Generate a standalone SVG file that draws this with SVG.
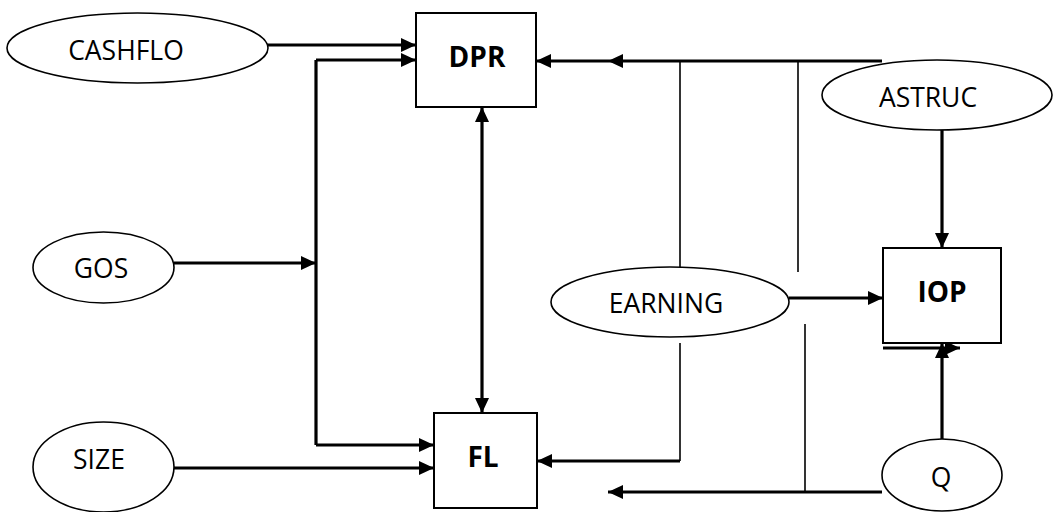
<svg xmlns="http://www.w3.org/2000/svg" width="1056" height="512" viewBox="0 0 1056 512">
<defs>
<marker id="ah" markerUnits="userSpaceOnUse" markerWidth="16" markerHeight="14" refX="15" refY="7" orient="auto">
<path d="M0,0 L15,7 L0,14 z" fill="#000"/>
</marker>
<marker id="ahs" markerUnits="userSpaceOnUse" markerWidth="16" markerHeight="14" refX="15" refY="7" orient="auto-start-reverse">
<path d="M0,0 L15,7 L0,14 z" fill="#000"/>
</marker>
<style>
.el{fill:#fff;stroke:#000;stroke-width:1.6}
.bx{fill:#fff;stroke:#000;stroke-width:2}
.t{font-family:"Open Sans","DejaVu Sans",sans-serif;font-size:26.5px;fill:#000;text-anchor:middle}
.b{font-weight:bold;font-size:28px}
.c{fill:none;stroke:#000;stroke-width:3.2}
.th{fill:none;stroke:#000;stroke-width:1.6}
.a{marker-end:url(#ah)}
</style>
</defs>
<rect width="1056" height="512" fill="#fff"/>
<g id="connectors">
<path class="c a" d="M268,45 H416"/>
<path class="c a" d="M316,60 H416"/>
<path class="c" d="M316,60 V445"/>
<path class="c a" d="M316,445 H434"/>
<path class="c a" d="M174,263 H316"/>
<path class="c a" d="M174,468 H434"/>
<path class="c" d="M482,107 V413" marker-start="url(#ahs)" marker-end="url(#ahs)"/>
<path class="c" d="M882,61 H608" marker-end="url(#ah)"/>
<path class="c a" d="M608,61 H536"/>
<path class="th" d="M680,61 V272"/>
<path class="th" d="M798,61 V272"/>
<path class="c a" d="M942,130 V248"/>
<path class="c a" d="M789,298 H883"/>
<path class="th" d="M680,343 V461"/>
<path class="c a" d="M680,461 H537"/>
<path class="c a" d="M942,439 V343"/>
<path class="c a" d="M883,348 H960"/>
<path class="c a" d="M882,492 H608"/>
<path class="th" d="M805,324 V492"/>
</g>
<g id="CASHFLO"><ellipse class="el" cx="137.5" cy="48" rx="130.5" ry="35"/><text class="t" x="126" y="60">CASHFLO</text></g>
<g id="GOS"><ellipse class="el" cx="103.5" cy="267.5" rx="70.5" ry="35.5"/><text class="t" x="101" y="278">GOS</text></g>
<g id="SIZE"><ellipse class="el" cx="103.5" cy="467" rx="70.5" ry="45"/><text class="t" x="99" y="469">SIZE</text></g>
<g id="DPR"><rect class="bx" x="416" y="13" width="120" height="94"/><text class="t b" x="477" y="67">DPR</text></g>
<g id="FL"><rect class="bx" x="434" y="413" width="103" height="95"/><text class="t b" x="483" y="467">FL</text></g>
<g id="ASTRUC"><ellipse class="el" cx="937" cy="95" rx="115" ry="35"/><text class="t" x="928" y="107">ASTRUC</text></g>
<g id="EARNING"><ellipse class="el" cx="670" cy="302" rx="119" ry="35"/><text class="t" x="666" y="313">EARNING</text></g>
<g id="IOP"><rect class="bx" x="883" y="248" width="118" height="95"/><text class="t b" x="942" y="302">IOP</text></g>
<g id="Q"><ellipse class="el" cx="942" cy="475" rx="60" ry="36"/><text class="t" x="941" y="487">Q</text></g>
</svg>
